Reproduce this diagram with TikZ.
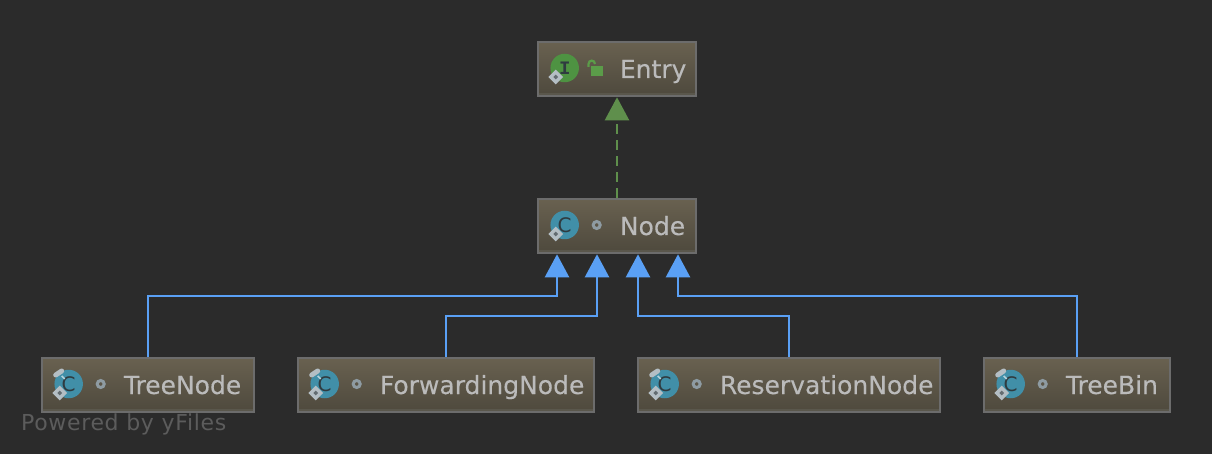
\documentclass[tikz,border=0pt]{standalone}
\usepackage{fontspec}
\setmainfont{DejaVu Sans}
\newfontfamily\iconmono{Liberation Mono}
\usetikzlibrary{arrows.meta,shapes.geometric,calc}
\definecolor{bgc}{HTML}{2B2B2B}
\definecolor{boxtop}{HTML}{696150}
\definecolor{boxbot}{HTML}{4E493D}
\definecolor{boxline}{HTML}{6C6C6C}
\definecolor{boxband}{HTML}{5A574C}
\definecolor{txt}{HTML}{BBBBBB}
\definecolor{blueline}{HTML}{5AA0F5}
\definecolor{greenline}{HTML}{5F8F4C}
\definecolor{teal}{HTML}{418FA8}
\definecolor{grn}{HTML}{4E9342}
\definecolor{lockg}{HTML}{5B9C49}
\definecolor{iconink}{HTML}{2F3B40}
\definecolor{diam}{HTML}{B4BEC4}
\definecolor{ringc}{HTML}{8E9BA2}
\definecolor{wmark}{HTML}{5C5C5C}
\tikzset{
  x=1pt,y=-1pt,
  classbox/.style={draw=boxline,line width=2.6pt,top color=boxtop,bottom color=boxbot,minimum height=54pt,inner sep=0pt,outer sep=1.3pt},
  label text/.style={anchor=base west,text=txt,inner sep=0pt,font=\fontsize{25}{30}\selectfont\addfontfeatures{FakeBold=0.2}},
  disc/.style={circle,minimum size=28.5pt,inner sep=0pt,text=iconink},
  ext/.style={-{Triangle[length=23pt,width=24pt]},blueline,line width=2.4pt},
  impl/.style={-{Triangle[length=23pt,width=24pt]},greenline,line width=2.4pt,dash pattern=on 10pt off 6pt},
  mark diamond/.style={diamond,fill=diam,minimum size=15pt,inner sep=0pt},
  mark hole/.style={diamond,fill=ringc!70!black,minimum size=5pt,inner sep=0pt},
  ring/.style={circle,draw=ringc,line width=3pt,minimum size=7pt,inner sep=0pt},
}
\newcommand{\umlbox}[6]{% name, center x, y, width, label, disc colour
  \node[classbox,minimum width=#4pt] (#1) at (#2,#3) {};
  \draw[boxband,line width=2pt] ($(#1.south west)+(2,-3)$) -- ($(#1.south east)+(-2,-3)$);
  \node[label text] (#1t) at ($(#1.west)+(83,9)$) {#5};
  \node[disc,fill=#6] (#1d) at ($(#1.west)+(28,-1)$) {};
}
\newcommand{\diamondmark}[1]{%
  \node[mark diamond] (#1m) at ($(#1d)+(-9,9)$) {};
  \node[mark hole] (#1h) at (#1m) {};
}
\newcommand{\classletter}[1]{%
  \node[text=iconink,inner sep=0pt,font=\fontsize{20}{22}\selectfont] (#1l) at ($(#1d)+(0,0)$) {C};
}
\newcommand{\ringmark}[1]{%
  \node[ring] (#1r) at ($(#1.west)+(60,-1)$) {};
}
\newcommand{\staticmark}[1]{%
  \draw[diam,line width=5pt,line cap=round] ($(#1d)+(-13,-9)$) -- ($(#1d)+(-7,-13)$);
  \draw[teal!40!white,line width=1.6pt] ($(#1d)+(-7,-8)$) -- ($(#1d)+(-4,-5)$);
}
\begin{document}
\begin{tikzpicture}
\useasboundingbox (0,0) rectangle (1212,454);
\fill[bgc] (0,0) rectangle (1212,454);

\node[anchor=base west,text=wmark,inner sep=0pt,font=\fontsize{22}{26}\selectfont\addfontfeatures{LetterSpace=3}] (wm) at (21,430) {Powered by yFiles};

\umlbox{entry}{617}{69}{158}{Entry}{grn}
\umlbox{node}{617}{226}{158}{Node}{teal}
\umlbox{tree}{148}{385}{212}{TreeNode}{teal}
\umlbox{fwd}{446}{385}{296}{ForwardingNode}{teal}
\umlbox{res}{789}{385}{302}{ReservationNode}{teal}
\umlbox{bin}{1077}{385}{186}{TreeBin}{teal}

% entry icon
\node[text=iconink,inner sep=0pt,font=\iconmono\bfseries\fontsize{19}{20}\selectfont] (entryl) at (entryd) {I};
\diamondmark{entry}
\fill[lockg] (591,66) rectangle (603,76);
\draw[lockg,line width=2.2pt] (588.5,67) -- (588.5,64) .. controls (588.5,59.5) and (595,59.5) .. (595,64);

% class icons
\foreach \n in {node,tree,fwd,res,bin}{
  \classletter{\n}
  \diamondmark{\n}
  \ringmark{\n}
}
\foreach \n in {tree,fwd,res,bin}{
  \staticmark{\n}
}

% connectors
\coordinate (a1) at ([xshift=-60pt]node.south);
\coordinate (a2) at ([xshift=-20pt]node.south);
\coordinate (a3) at ([xshift=21pt]node.south);
\coordinate (a4) at ([xshift=61pt]node.south);
\draw[impl] (node.north) -- (entry.south);
\draw[ext] (tree.north) -- (tree.north |- 0,296) -- (a1 |- 0,296) -- (a1);
\draw[ext] (fwd.north) -- (fwd.north |- 0,316) -- (a2 |- 0,316) -- (a2);
\draw[ext] (res.north) -- (res.north |- 0,316) -- (a3 |- 0,316) -- (a3);
\draw[ext] (bin.north) -- (bin.north |- 0,296) -- (a4 |- 0,296) -- (a4);
\end{tikzpicture}
\end{document}
